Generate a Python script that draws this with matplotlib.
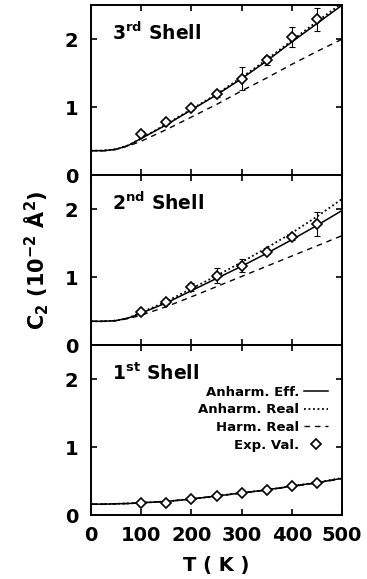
import numpy as np
import matplotlib
matplotlib.use("Agg")
import matplotlib.pyplot as plt

plt.rcParams["font.family"] = ["DejaVu Sans"]
plt.rcParams["font.weight"] = "bold"
plt.rcParams["mathtext.default"] = "bf"

# temperature grid for the model curves (K)
T_CURVE = [0, 25, 50, 75, 100, 150, 200, 250, 300, 350, 400, 450, 500]
# experimental temperatures (K)
T_EXP = [100, 150, 200, 250, 300, 350, 400, 450]

# ---- 3rd shell ----
S3_EFF = [0.36, 0.36, 0.38, 0.44, 0.54, 0.74, 0.96, 1.18, 1.42, 1.68, 1.96, 2.23, 2.50]
S3_REAL = [0.36, 0.36, 0.38, 0.44, 0.54, 0.75, 0.97, 1.19, 1.44, 1.70, 1.98, 2.26, 2.53]
S3_HARM = [0.36, 0.36, 0.38, 0.43, 0.50, 0.67, 0.855, 1.04, 1.24, 1.43, 1.63, 1.82, 2.00]
S3_EXP = [0.61, 0.78, 0.99, 1.19, 1.42, 1.69, 2.03, 2.29]
S3_ERR = [0.04, 0.03, 0.03, 0.04, 0.17, 0.07, 0.15, 0.165]

# ---- 2nd shell ----
S2_EFF = [0.35, 0.35, 0.36, 0.40, 0.47, 0.62, 0.80, 0.98, 1.16, 1.35, 1.55, 1.76, 1.98]
S2_REAL = [0.35, 0.35, 0.36, 0.40, 0.48, 0.64, 0.83, 1.02, 1.22, 1.43, 1.65, 1.89, 2.15]
S2_HARM = [0.35, 0.35, 0.36, 0.39, 0.44, 0.565, 0.71, 0.86, 1.01, 1.16, 1.31, 1.46, 1.61]
S2_EXP = [0.49, 0.64, 0.85, 1.02, 1.17, 1.37, 1.59, 1.78]
S2_ERR = [0.03, 0.03, 0.06, 0.11, 0.09, 0.03, 0.05, 0.18]

# ---- 1st shell ----
S1_EFF = [0.16, 0.16, 0.165, 0.17, 0.18, 0.20, 0.235, 0.28, 0.325, 0.37, 0.425, 0.475, 0.54]
S1_REAL = [0.16, 0.16, 0.165, 0.17, 0.18, 0.20, 0.235, 0.28, 0.325, 0.37, 0.425, 0.48, 0.545]
S1_HARM = [0.16, 0.16, 0.165, 0.17, 0.18, 0.20, 0.235, 0.28, 0.322, 0.367, 0.42, 0.472, 0.535]
S1_EXP = [0.17, 0.18, 0.23, 0.28, 0.32, 0.37, 0.43, 0.47]

panels = [
    ("3$^{rd}$ Shell", S3_EFF, S3_REAL, S3_HARM, S3_EXP, S3_ERR),
    ("2$^{nd}$ Shell", S2_EFF, S2_REAL, S2_HARM, S2_EXP, S2_ERR),
    ("1$^{st}$ Shell", S1_EFF, S1_REAL, S1_HARM, S1_EXP, None),
]

fig = plt.figure(figsize=(3.67, 5.79), dpi=100)
gs = fig.add_gridspec(3, 1, left=0.248, right=0.932, bottom=0.1105, top=0.991, hspace=0)
axes = [fig.add_subplot(gs[i]) for i in range(3)]

for ax, (name, eff, real, harm, exp, err) in zip(axes, panels):
    ax.plot(T_CURVE, eff, color="black", lw=1.1, ls="-", label="Anharm. Eff.")
    ax.plot(T_CURVE, real, color="black", lw=1.3, ls=(0, (1, 1.5)), label="Anharm. Real")
    ax.plot(T_CURVE, harm, color="black", lw=1.0, ls=(0, (4, 3.5)), label="Harm. Real")
    if err is not None:
        ax.errorbar(T_EXP, exp, yerr=err, fmt="none", ecolor="black",
                    elinewidth=0.8, capsize=2, capthick=0.8)
    ax.plot(T_EXP, exp, ls="none", marker="D", ms=4.8, mfc="white", mec="black",
            mew=1.2, label="Exp. Val.")

    ax.set_xlim(0, 500)
    ax.set_ylim(0, 2.5)
    ax.set_xticks([0, 100, 200, 300, 400, 500])
    ax.set_yticks([0, 1, 2])
    ax.tick_params(direction="in", length=4, width=1.2, top=True, right=True,
                   labelsize=14)
    ax.tick_params(axis="y", pad=9)
    ax.tick_params(axis="x", pad=8)
    for sp in ax.spines.values():
        sp.set_linewidth(1.4)
    ax.text(42, 2.09, name, fontsize=13.5, fontweight="bold", va="center")

for ax in axes[:2]:
    ax.tick_params(labelbottom=False)

axes[1].set_ylabel("C$_2$ (10$^{-2}$ Å$^2$)", fontsize=15, fontweight="bold", labelpad=10)
axes[2].set_xlabel("T ( K )", fontsize=14, fontweight="bold", labelpad=8)

axes[2].legend(loc="upper right", bbox_to_anchor=(0.97, 0.80), frameon=False,
               markerfirst=False, fontsize=9.5, handlelength=1.8, handletextpad=0.4,
               labelspacing=0.35, borderpad=0)

plt.savefig("out.png", dpi=100)
